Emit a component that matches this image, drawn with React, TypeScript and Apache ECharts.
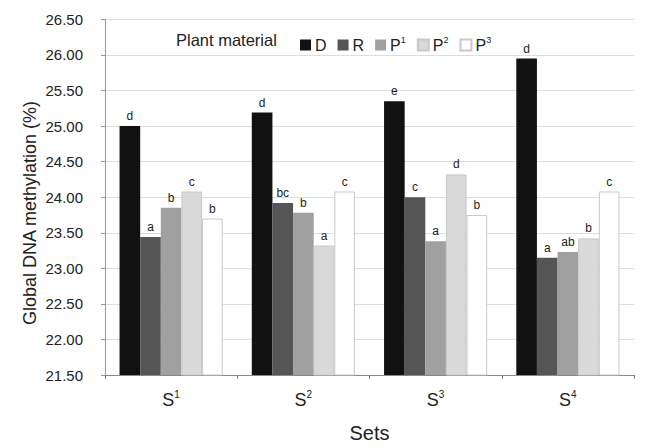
import React, { useEffect, useRef } from "react";
import * as echarts from "echarts";

const categories = ["S1", "S2", "S3", "S4"];
const seriesNames = ["D", "R", "P1", "P2", "P3"];
const valuesD = [25.0, 25.19, 25.35, 25.95];
const valuesR = [23.44, 23.92, 24.0, 23.15];
const valuesP1 = [23.85, 23.78, 23.38, 23.23];
const valuesP2 = [24.08, 23.32, 24.32, 23.42];
const valuesP3 = [23.7, 24.08, 23.75, 24.08];
const lettersD = ["d", "d", "e", "d"];
const lettersR = ["a", "bc", "c", "a"];
const lettersP1 = ["b", "b", "a", "ab"];
const lettersP2 = ["c", "a", "d", "b"];
const lettersP3 = ["b", "c", "b", "c"];
const yTicks = { min: 21.5, max: 26.5, step: 0.5 };

const colors = ["#111111", "#555555", "#a0a0a0", "#d9d9d9", "#ffffff"];
const FONT = "'Liberation Sans', Arial, sans-serif";

function supLabel(s: string) {
  const m = s.match(/^([A-Za-z]+)(\d+)$/);
  if (!m) return `{b|${s}}`;
  return `{b|${m[1]}}{sup|${m[2]}}`;
}

export default function App() {
  const ref = useRef<HTMLDivElement>(null);
  useEffect(() => {
    if (!ref.current) return;
    const chart = echarts.init(ref.current, null, { renderer: "svg" });
    const allValues = [valuesD, valuesR, valuesP1, valuesP2, valuesP3];
    const allLetters = [lettersD, lettersR, lettersP1, lettersP2, lettersP3];
    const series = seriesNames.map((name, i) => ({
      name,
      type: "bar",
      data: allValues[i],
      barGap: "0%",
      barCategoryGap: "22%",
      itemStyle: {
        color: colors[i],
        borderColor: i >= 3 ? "#c8c8c8" : colors[i],
        borderWidth: i >= 3 ? 1 : 0,
      },
      label: {
        show: true,
        position: "top",
        distance: 4,
        fontFamily: FONT,
        fontSize: 12,
        color: "#222222",
        formatter: (p: any) => allLetters[i][p.dataIndex],
      },
    }));
    chart.setOption({
      animation: false,
      backgroundColor: "#ffffff",
      textStyle: { fontFamily: FONT },
      grid: { left: 105, right: 12, top: 19.4, bottom: 65.7, show: false },
      graphic: [
        {
          type: "text",
          left: 176,
          top: 31,
          style: {
            text: "Plant material",
            font: "16.5px 'Liberation Sans', Arial, sans-serif",
            fill: "#222222",
          },
        },
        {
          type: "text",
          x: 30,
          y: 213,
          rotation: Math.PI / 2,
          style: {
            text: "Global DNA methylation (%)",
            font: "18px 'Liberation Sans', Arial, sans-serif",
            fill: "#222222",
            textAlign: "center",
            textVerticalAlign: "middle",
          },
        },
      ],
      legend: {
        data: seriesNames,
        left: 295,
        top: 30,
        icon: "rect",
        itemWidth: 11,
        itemHeight: 11,
        itemGap: 11,
        selectedMode: false,
        formatter: (n: string) => supLabel(n),
        textStyle: {
          fontFamily: FONT,
          fontSize: 16,
          color: "#222222",
          padding: [0, 0, 0, -1],
          rich: {
            b: { fontSize: 16, fontFamily: FONT, color: "#222222", lineHeight: 20 },
            sup: {
              fontSize: 9,
              fontFamily: FONT,
              color: "#222222",
              verticalAlign: "top",
              lineHeight: 12,
            },
          },
        },
      },
      xAxis: {
        type: "category",
        data: categories,
        name: "Sets",
        nameLocation: "middle",
        nameGap: 48,
        nameTextStyle: { fontFamily: FONT, fontSize: 20, color: "#222222" },
        axisLine: { show: true, lineStyle: { color: "#888888", width: 1 } },
        axisTick: { show: true, length: 4, lineStyle: { color: "#888888" } },
        splitLine: { show: false },
        splitArea: { show: false },
        axisLabel: {
          margin: 14,
          formatter: (v: string) => supLabel(v),
          rich: {
            b: { fontSize: 18, fontFamily: FONT, color: "#222222", lineHeight: 22 },
            sup: {
              fontSize: 10,
              fontFamily: FONT,
              color: "#222222",
              verticalAlign: "top",
              lineHeight: 14,
            },
          },
        },
      },
      yAxis: {
        type: "value",
        min: yTicks.min,
        max: yTicks.max,
        interval: yTicks.step,
        axisLine: { show: true, lineStyle: { color: "#999999", width: 1 } },
        axisTick: { show: true, length: 4, lineStyle: { color: "#999999" } },
        axisLabel: {
          fontFamily: FONT,
          fontSize: 15,
          color: "#222222",
          margin: 22,
          formatter: (v: number) => v.toFixed(2),
        },
        splitLine: { show: true, lineStyle: { color: "#dddddd", width: 1.2 } },
      },
      series,
    } as any);
    return () => chart.dispose();
  }, []);
  return (
    <div
      ref={ref}
      style={{ position: "fixed", left: 0, top: 0, width: 646, height: 448 }}
    />
  );
}
